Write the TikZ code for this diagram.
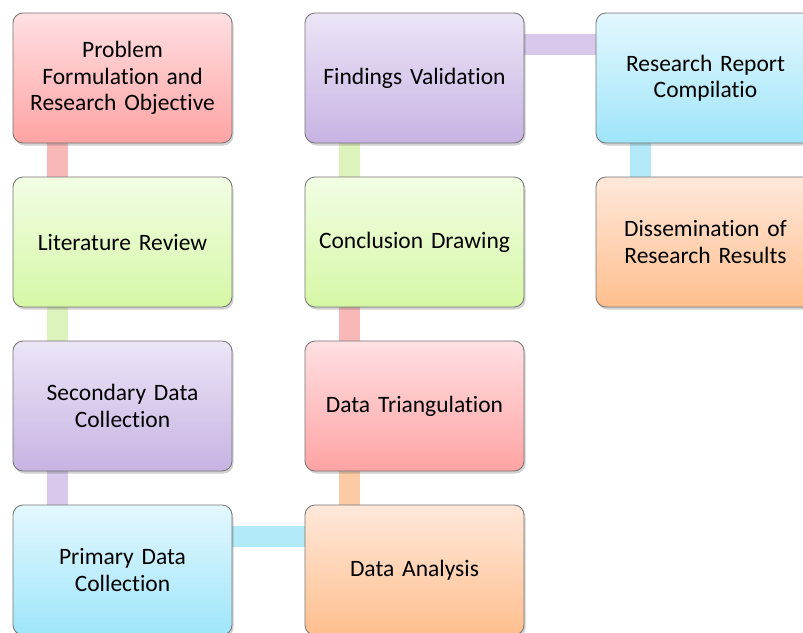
\documentclass[tikz,border=0pt]{standalone}
\usepackage{fontspec}
\setmainfont{Carlito}[RawFeature={-liga;-clig;-calt;-dlig}]
\usetikzlibrary{shadows,backgrounds}
\definecolor{pkT}{HTML}{FFE0E3}\definecolor{pkB}{HTML}{FFA3A3}\definecolor{pkL}{HTML}{F9B8B8}
\definecolor{grT}{HTML}{F2FEE4}\definecolor{grB}{HTML}{D6F7A6}\definecolor{grL}{HTML}{DDF3BC}
\definecolor{puT}{HTML}{ECE5F7}\definecolor{puB}{HTML}{C7B3E3}\definecolor{puL}{HTML}{D7C8EC}
\definecolor{blT}{HTML}{E3F8FE}\definecolor{blB}{HTML}{9FE5FA}\definecolor{blL}{HTML}{B3EAF9}
\definecolor{orT}{HTML}{FFE8DA}\definecolor{orB}{HTML}{FFBF8E}\definecolor{orL}{HTML}{FCCBA3}
\tikzset{
  x=1pt,y=1pt,
  box/.style={draw=black!55, line width=0.8pt, rounded corners=10pt,
    minimum width=219pt, minimum height=130pt, text width=210pt, align=center,
    font=\fontsize{23.5}{26.5}\selectfont,
    drop shadow={shadow xshift=1.5pt, shadow yshift=-2.5pt, opacity=0.3, fill=black!60}},
  pink/.style={box, top color=pkT, bottom color=pkB},
  green/.style={box, top color=grT, bottom color=grB},
  purple/.style={box, top color=puT, bottom color=puB},
  blue/.style={box, top color=blT, bottom color=blB},
  orange/.style={box, top color=orT, bottom color=orB},
  link/.style={line width=21pt},
}
\begin{document}
\begin{tikzpicture}
\clip (0,0) rectangle (803,-632);
\node[pink]   (a) at (122.5,-78)  {Problem\\Formulation and\\Research Objective};
\node[green]  (b) at (122.5,-242) {Literature Review};
\node[purple] (c) at (122.5,-406) {Secondary Data\\Collection};
\node[blue]   (d) at (122.5,-570) {Primary Data\\Collection};
\node[orange] (e) at (414.5,-570) {Data Analysis};
\node[pink]   (f) at (414.5,-406) {Data Triangulation};
\node[green]  (g) at (414.5,-242) {Conclusion Drawing};
\node[purple] (h) at (414.5,-78)  {Findings Validation};
\node[blue]   (i) at (705.5,-78)  {Research Report\\Compilatio};
\node[orange] (j) at (705.5,-242) {Dissemination of\\Research Results};
\begin{scope}[on background layer]
\draw[link,pkL] ([xshift=45pt]a.south west) -- ([xshift=45pt]b.north west);
\draw[link,grL] ([xshift=45pt]b.south west) -- ([xshift=45pt]c.north west);
\draw[link,puL] ([xshift=45pt]c.south west) -- ([xshift=45pt]d.north west);
\draw[link,blL] ([yshift=-32pt]d.north east) -- ([yshift=-32pt]e.north west);
\draw[link,orL] ([xshift=45pt]e.north west) -- ([xshift=45pt]f.south west);
\draw[link,pkL] ([xshift=45pt]f.north west) -- ([xshift=45pt]g.south west);
\draw[link,grL] ([xshift=45pt]g.north west) -- ([xshift=45pt]h.south west);
\draw[link,puL] ([yshift=-32pt]h.north east) -- ([yshift=-32pt]i.north west);
\draw[link,blL] ([xshift=45pt]i.south west) -- ([xshift=45pt]j.north west);
\end{scope}
\end{tikzpicture}
\end{document}
